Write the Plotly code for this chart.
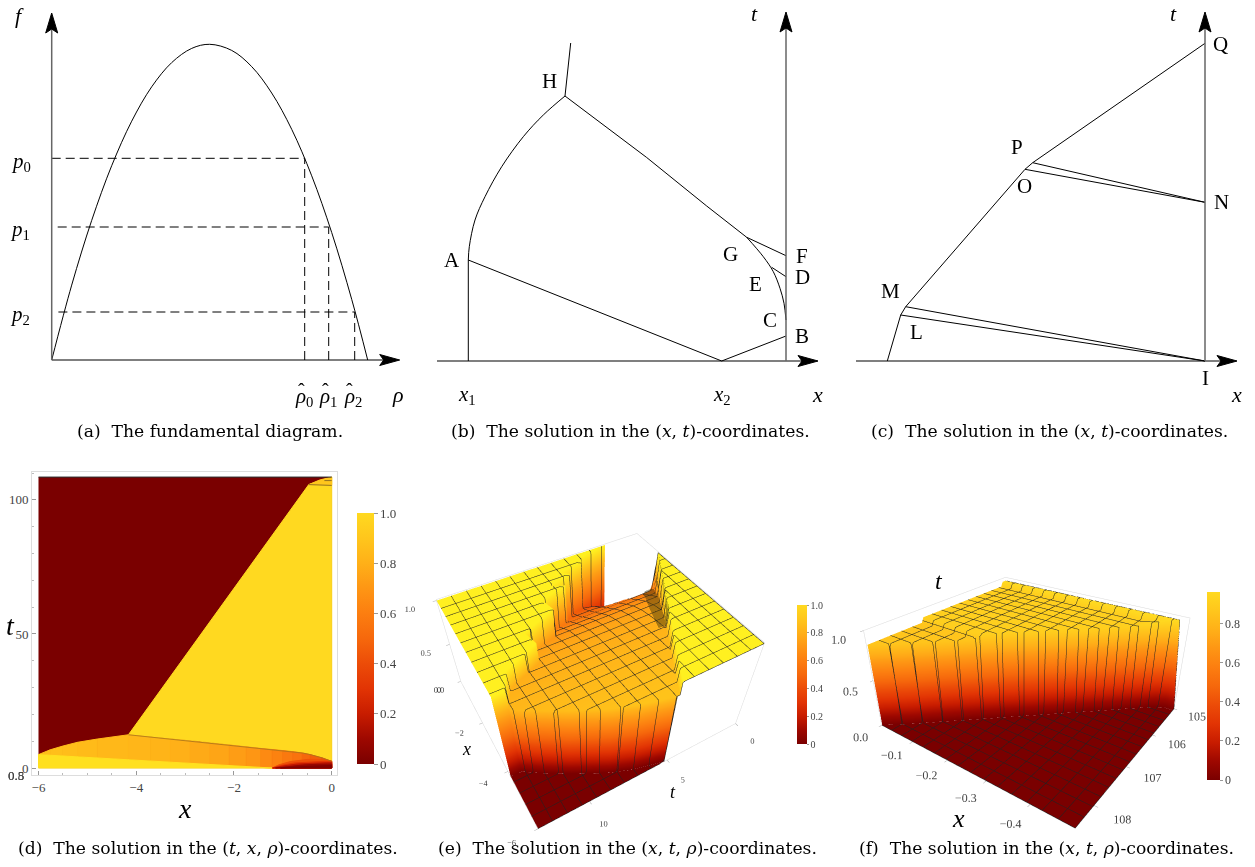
import plotly.graph_objects as go

W, H = 1255, 867
SERIF = "Liberation Serif"
CAPFONT = "DejaVu Serif"

# ---------- panel (a) fundamental diagram (diagram units, origin at axes crossing)
a_curve_x = [0, 20, 40, 60, 80, 100, 120, 140, 158, 180, 200, 220, 240, 260, 280, 300, 316]
a_curve_y = [0, 74.9, 139.6, 194.3, 238.8, 273.2, 297.4, 311.6, 315.7, 309.6, 293.4, 267, 230.7, 184.2, 127.5, 60.7, 0]
a_p_levels = [201.7, 133, 48]
a_rho_hat = [253, 277, 303]
a_dash_start = [0, 6, 6.7]

# ---------- panel (b)
b_x1_line = ([-317.7, -317.7], [0, 101])
b_A_x2 = ([-317.7, -64.3], [101, 0])
b_x2_B = ([-64.3, 0], [0, 25])
b_AH = ([-317.7, -316.7, -311, -301, -284.3, -262.7, -242.7, -221],
        [101, 114.3, 141, 164.3, 194.3, 224.3, 246, 265])
b_H_up = ([-221, -215.3], [265, 318])
b_HG = ([-221, -139.3, -79.3, -39.3], [265, 203.5, 155, 123.7])
b_GC = ([-39.3, -22.7, -12.7, -6, -2, 0], [123.7, 104.3, 89.3, 72.7, 57.7, 41])
b_GF = ([-39.3, 0], [123.7, 105.3])
b_ED = ([-14.3, 0], [93.7, 84.3])

# ---------- panel (c)
c_path = ([-317.7, -304.3, -299.3, -180, -172.3, 0], [0, 46, 54.3, 191.7, 198.3, 317.7])
c_LI = ([-304.3, 0], [46, 0])
c_MI = ([-299.3, 0], [54.3, 0])
c_ON = ([-180, 0], [191.7, 158.7])
c_PN = ([-172.3, 0], [198.3, 158.7])

# ---------- panel (d) density map
d_x = [-6, -5.76, -5.5, -5.2, -4.8, -4.16, -3.7, -3.3, -2.9, -2.5, -2.1, -1.75, -1.45, -1.22, -1.0, -0.8, -0.6, -0.44, -0.2, 0]
d_low = [5, 4.75, 4.48, 4.16, 3.74, 3.06, 2.58, 2.16, 1.74, 1.34, 0.92, 0.55, 0.24, 0, 0, 0, 0, 0, 0, 0]
d_up = [5.2, 6.8, 8.2, 9.6, 10.8, 12.4, 11.5, 10.8, 10.1, 9.3, 8.6, 7.9, 7.3, 6.9, 6.5, 6.1, 5.6, 5.0, 3.8, 2.5]
d_rho = [0.87, 0.87, 0.86, 0.85, 0.84, 0.83, 0.82, 0.8, 0.78, 0.76, 0.73, 0.7, 0.65, 0.62, 0.58, 0.55, 0.5, 0.47, 0.44]
d_wedge_rho = [0.42, 0.3, 0.18, 0.08, 0.02]
d_wedge_x = [
    [-1.22, -1.08, -0.85, -0.5, -0.2, 0, 0],
    [-1.22, -1.02, -0.75, -0.4, -0.15, 0, 0],
    [-1.2, -0.98, -0.7, -0.35, -0.1, 0, 0],
    [-1.15, -0.9, -0.6, -0.3, -0.1, 0, 0],
    [-1.05, -0.8, -0.5, -0.25, -0.1, 0, 0],
]
d_wedge_t = [
    [0, 1.2, 2.4, 3.2, 3.2, 2.6, 0],
    [0, 1.0, 1.9, 2.4, 2.5, 2.4, 0],
    [0, 0.8, 1.5, 1.9, 2.0, 2.0, 0],
    [0, 0.6, 1.1, 1.4, 1.5, 1.5, 0],
    [0, 0.35, 0.6, 0.8, 0.9, 0.9, 0],
]
d_yellow_x = [-4.16, -0.47, 0, 0, -0.44, -1.33, -2.7]
d_yellow_t = [12.4, 105.7, 108.5, 2.5, 5.0, 7.1, 10]
d_tip_x = [-0.47, -0.25, 0, 0, -0.47]
d_tip_t = [105.7, 107.4, 108.5, 105.6, 105.7]

# ---------- panel (e) surface: one row per x, knots along t
e_x = [-6, -5.75, -5.5, -5, -4.5, -4.2, -4.1, -3.5, -3, -2.5, -2, -1.5, -1.3, -1.22, -1.18, -1.1, -1, -0.8, -0.6, -0.4, -0.2, 0]
e_t = [
    [0, 5.0, 5.02, 5.05, 5.08, 5.12, 5.18, 5.22, 13],
    [0, 4.74, 4.79, 5.3, 5.8, 6.4, 7.0, 7.05, 13],
    [0, 4.48, 4.53, 5.3, 6, 7, 8.2, 8.25, 13],
    [0, 3.95, 4, 5, 6.5, 8, 10, 10.05, 13],
    [0, 3.43, 3.48, 5, 7, 9, 11.5, 11.55, 13],
    [0, 3.1, 3.15, 5, 7, 9, 12.3, 12.35, 13],
    [0, 3.0, 3.05, 5, 7, 9, 12.3, 12.35, 13],
    [0, 2.38, 2.43, 4, 6, 8, 11.7, 11.75, 13],
    [0, 1.86, 1.91, 4, 6, 8, 9.7, 9.75, 13],
    [0, 1.34, 1.39, 3, 5, 7, 9.9, 9.95, 13],
    [0, 0.82, 0.87, 3, 5, 7, 7.8, 7.85, 13],
    [0, 0.29, 0.34, 2, 4, 6, 8.0, 8.05, 13],
    [0, 0.08, 0.12, 2, 4, 5.5, 6.9, 6.95, 13],
    [0, 0.01, 0.03, 1, 2, 4, 6.3, 6.35, 13],
    [0, 0.1, 0.3, 1, 2, 4, 6.5, 6.55, 13],
    [0, 0.2, 0.5, 1, 2, 4, 6.9, 6.95, 13],
    [0, 0.3, 0.7, 1.2, 2, 4, 7.0, 7.05, 13],
    [0, 0.4, 0.9, 1.5, 2.5, 4, 5.6, 5.65, 13],
    [0, 0.4, 0.9, 1.5, 2.5, 4, 6.0, 6.05, 13],
    [0, 0.4, 0.9, 1.5, 2.5, 3.5, 4.4, 4.45, 13],
    [0, 0.4, 0.9, 1.5, 2.2, 3, 4.2, 4.25, 13],
    [0, 0.4, 0.8, 1.2, 1.6, 2, 2.3, 2.35, 13],
]
e_rho = [
    [1, 1, .86, .86, .86, .86, .86, 0, 0],
    [1, 1, .86, .86, .86, .86, .86, 0, 0],
    [1, 1, .85, .85, .85, .85, .85, 0, 0],
    [1, 1, .84, .84, .84, .84, .84, 0, 0],
    [1, 1, .83, .83, .83, .83, .83, 0, 0],
    [1, 1, .82, .82, .82, .82, .82, 0, 0],
    [1, 1, .82, .82, .82, .82, .82, 1, 1],
    [1, 1, .8, .8, .8, .8, .8, 1, 1],
    [1, 1, .78, .78, .78, .78, .78, 1, 1],
    [1, 1, .75, .75, .75, .75, .75, 1, 1],
    [1, 1, .7, .7, .7, .7, .7, 1, 1],
    [1, 1, .62, .62, .62, .62, .62, 1, 1],
    [1, 1, .58, .58, .58, .58, .58, 1, 1],
    [1, 1, .58, .58, .58, .58, .58, 1, 1],
    [.75, .62, .57, .56, .55, .55, .55, 1, 1],
    [.5, .5, .52, .54, .55, .55, .55, 1, 1],
    [.4, .42, .46, .5, .53, .53, .53, 1, 1],
    [.25, .28, .34, .4, .47, .5, .5, 1, 1],
    [.14, .18, .24, .31, .41, .47, .47, 1, 1],
    [.08, .11, .16, .22, .33, .42, .45, 1, 1],
    [.04, .06, .09, .14, .23, .33, .4, 1, 1],
    [.03, .04, .05, .07, .09, .11, .13, 1, 1],
]
# soft shadow lying on the wall between the right plateau and the fan in (e)
e_shade_x = [-3.6, -3, -2.5, -2, -1.5, -1.3, -1.22]
e_shade_t = [
    [2.5, 2.55, 3.0],
    [1.86, 1.91, 2.6],
    [1.34, 1.39, 2.2],
    [0.82, 0.87, 1.7],
    [0.29, 0.34, 1.2],
    [0.08, 0.12, 0.9],
    [0.01, 0.03, 0.7],
]
e_shade_rho = [
    [1.01, .82, .82],
    [1.01, .8, .8],
    [1.01, .77, .77],
    [1.01, .72, .72],
    [1.01, .64, .64],
    [1.01, .6, .6],
    [1.01, .6, .6],
]

# ---------- panel (f) surface
f_x = [-.49, -.47, -.45, -.4, -.35, -.3, -.25, -.2, -.17, -.15, -.1, -.05, 0]
f_t = [
    [105, 105.01, 105.02, 105.03, 105.04, 105.05, 105.06, 108.5],
    [105, 105.01, 105.02, 105.03, 105.04, 105.05, 105.06, 108.5],
    [105, 105.05, 105.07, 105.09, 105.11, 105.13, 105.15, 108.5],
    [105, 105.1, 105.15, 105.46, 105.48, 105.5, 105.52, 108.5],
    [105, 105.1, 105.15, 105.84, 105.86, 105.88, 105.9, 108.5],
    [105, 105.1, 105.15, 106.21, 106.23, 106.25, 106.27, 108.5],
    [105, 105.1, 105.15, 106.59, 106.61, 106.63, 106.65, 108.5],
    [105, 105.1, 105.15, 106.96, 106.98, 107.0, 107.02, 108.5],
    [105, 105.1, 105.15, 107.19, 107.21, 107.23, 107.25, 108.5],
    [105, 105.1, 105.15, 107.3, 107.35, 107.38, 107.4, 108.5],
    [105, 105.1, 105.15, 107.3, 107.35, 107.75, 107.77, 108.5],
    [105, 105.1, 105.15, 107.3, 107.35, 108.13, 108.15, 108.5],
    [105, 105.1, 105.15, 107.3, 107.35, 108.48, 108.49, 108.5],
]
f_rho = [
    [0, 0, 0, 0, 0, 0, 0, 0],
    [.96, .96, .96, .96, .96, .96, 0, 0],
    [.96, .96, .96, .96, .96, .96, 0, 0],
    [.96, .96, .91, .91, .91, .91, 0, 0],
    [.96, .96, .91, .91, .91, .91, 0, 0],
    [.96, .96, .91, .91, .91, .91, 0, 0],
    [.96, .96, .91, .91, .91, .91, 0, 0],
    [.96, .96, .91, .91, .91, .91, 0, 0],
    [.96, .96, .91, .91, .91, .91, 0, 0],
    [.96, .96, .91, .91, .86, .86, 0, 0],
    [.96, .96, .91, .91, .86, .86, 0, 0],
    [.96, .96, .91, .91, .86, .86, 0, 0],
    [.96, .96, .91, .91, .86, .86, 0, 0],
]

SCALE_STOPS = [0, 0.1, 0.2, 0.3, 0.4, 0.5, 0.6, 0.7, 0.8, 0.9, 1]
SCALE_RGB = [(122, 0, 0), (158, 8, 0), (200, 28, 0), (226, 52, 4), (236, 76, 8), (246, 104, 12),
             (252, 126, 16), (254, 150, 20), (255, 176, 24), (255, 198, 28), (255, 217, 32)]
COLORSCALE = [[s, "rgb(%d,%d,%d)" % c] for s, c in zip(SCALE_STOPS, SCALE_RGB)]
# the lit surface in (e) reads brighter than its legend at the top of the range
E_RGB = SCALE_RGB[:9] + [(255, 208, 28), (255, 240, 32)]
E_COLORSCALE = [[s, "rgb(%d,%d,%d)" % c] for s, c in zip(SCALE_STOPS, E_RGB)]
FLAT = dict(ambient=1, diffuse=0, specular=0, roughness=1, fresnel=0)


def rho_color(v):
    for i in range(len(SCALE_STOPS) - 1):
        if v <= SCALE_STOPS[i + 1]:
            f = (v - SCALE_STOPS[i]) / (SCALE_STOPS[i + 1] - SCALE_STOPS[i])
            c = [SCALE_RGB[i][k] + f * (SCALE_RGB[i + 1][k] - SCALE_RGB[i][k]) for k in range(3)]
            return "rgb(%d,%d,%d)" % tuple(c)
    return "rgb(255,217,32)"


fig = go.Figure()
layout_axes = {}


def panel_axes(n, left, right, top, bottom, xr, yr, visible=False, **kw):
    sx = "xaxis" if n == 1 else f"xaxis{n}"
    sy = "yaxis" if n == 1 else f"yaxis{n}"
    base = dict(visible=visible, fixedrange=True)
    layout_axes[sx] = dict(domain=[left / W, right / W], range=xr, anchor="y" if n == 1 else f"y{n}", **base, **kw)
    layout_axes[sy] = dict(domain=[1 - bottom / H, 1 - top / H], range=yr, anchor="x" if n == 1 else f"x{n}", **base, **kw)
    return ("x" if n == 1 else f"x{n}"), ("y" if n == 1 else f"y{n}")


def line(ax, xs, ys, color="black", width=1.0, dash=None, spline=False):
    fig.add_trace(go.Scatter(x=xs, y=ys, mode="lines", xaxis=ax[0], yaxis=ax[1], hoverinfo="skip",
                             line=dict(color=color, width=width, dash=dash,
                                       shape="spline" if spline else "linear", smoothing=1.0)))


def poly(ax, xs, ys, color):
    fig.add_trace(go.Scatter(x=list(xs) + [xs[0]], y=list(ys) + [ys[0]], mode="lines", xaxis=ax[0], yaxis=ax[1],
                             fill="toself", fillcolor=color, line=dict(color=color, width=1), hoverinfo="skip"))


def axes_arrows(ax, x_from, x_tip, t_x, t_tip, y_from=0, x_color="black", t_color="#666666", t_w=1.5):
    line(ax, [x_from, x_tip - 12], [0, 0], color=x_color, width=1.2)
    line(ax, [t_x, t_x], [y_from, t_tip - 12], color=t_color, width=t_w)
    poly(ax, [x_tip - 20, x_tip, x_tip - 20, x_tip - 16], [5.5, 0, -5.5, 0], "black")
    poly(ax, [t_x - 6, t_x, t_x + 6, t_x], [t_tip - 20, t_tip, t_tip - 20, t_tip - 16], "black")


# panel a
axa = panel_axes(1, 0, 420, 0, 450, [-51.7, 368.3], [-90, 360])
line(axa, a_curve_x, a_curve_y, spline=True)
for lvl, rh, st in zip(a_p_levels, a_rho_hat, a_dash_start):
    line(axa, [st, rh], [lvl, lvl], width=1, dash="9px,5px")
    line(axa, [rh, rh], [0, lvl], width=1, dash="9px,5px")
axes_arrows(axa, 0, 348, 0, 347)

# panel b
axb = panel_axes(2, 430, 840, 0, 450, [-356, 54], [-89, 361])
for seg in (b_x1_line, b_A_x2, b_x2_B, b_H_up, b_HG, b_GF, b_ED):
    line(axb, seg[0], seg[1])
line(axb, b_AH[0], b_AH[1], spline=True)
line(axb, b_GC[0], b_GC[1], spline=True)
axes_arrows(axb, -349, 32, 0, 349)

# panel c
axc = panel_axes(3, 840, 1255, 0, 450, [-365, 50], [-89, 361])
for seg in (c_path, c_LI, c_MI, c_ON, c_PN):
    line(axc, seg[0], seg[1])
axes_arrows(axc, -349, 32, 0, 349)

# panel d
panel_axes(4, 32, 337, 472, 775, [-6.133, 0.108], [-2.6, 110.4])
TICK = dict(family=SERIF, size=13, color="#444444")
layout_axes["xaxis4"].update(visible=True, showgrid=False, zeroline=False, mirror=True, showline=True, linecolor="#dddddd",
                             tickvals=[-6, -4, -2, 0], ticks="inside", ticklen=4, tickcolor="#999999", tickfont=TICK,
                             minor=dict(dtick=0.5, ticks="inside", ticklen=2, tickcolor="#bbbbbb"))
layout_axes["yaxis4"].update(visible=True, showgrid=False, zeroline=False, mirror=True, showline=True, linecolor="#dddddd",
                             tickvals=[0, 50, 100], ticks="inside", ticklen=4, tickcolor="#999999", tickfont=TICK,
                             minor=dict(dtick=10, ticks="inside", ticklen=2, tickcolor="#bbbbbb"))
axd = ("x4", "y4")
fig.add_trace(go.Heatmap(x=[-6, 0], y=[0, 108.5], z=[[0]], xaxis="x4", yaxis="y4", zmin=0, zmax=1,
                         colorscale=COLORSCALE, hoverinfo="skip",
                         colorbar=dict(x=357 / W, xanchor="left", y=1 - 764 / H, yanchor="bottom", len=251 / H,
                                       thickness=17, outlinewidth=0, xpad=0, ypad=0, ticks="outside", ticklen=4,
                                       tickcolor="#999999", tickvals=[0, .2, .4, .6, .8, 1],
                                       ticktext=["0", "0.2", "0.4", "0.6", "0.8", "1.0"], tickfont=TICK)))
poly(axd, d_yellow_x, d_yellow_t, rho_color(1))
poly(axd, d_tip_x, d_tip_t, rho_color(0.9))
for i, r in enumerate(d_rho):
    poly(axd, [d_x[i], d_x[i + 1], d_x[i + 1], d_x[i]], [d_low[i], d_low[i + 1], d_up[i + 1], d_up[i]], rho_color(r))
poly(axd, [-6, -1.22, -6], [0, 0, 5], "rgb(255,224,32)")
for xs, ts, r in zip(d_wedge_x, d_wedge_t, d_wedge_rho):
    poly(axd, xs, ts, rho_color(r))
line(axd, d_x[5:], d_up[5:], color="#a8741a", width=0.8)
line(axd, [-0.47, 0], [105.7, 105.4], color="#7a5a20", width=0.8)
line(axd, [-0.15, 0], [107.2, 107.2], color="#7a5a20", width=0.8)
line(axd, [-6, 0], [108.5, 108.5], color="#222222", width=1)

SMALL = dict(family=SERIF, size=10, color="#444444")
MID = dict(family=SERIF, size=12, color="#444444")

# colour bar for (e): a legend-only marker, so the bar keeps the plain scale
fig.add_trace(go.Scatter(x=[-6], y=[0], mode="markers", xaxis="x4", yaxis="y4", hoverinfo="skip",
                         marker=dict(size=1, opacity=0, color=[0], cmin=0, cmax=1, colorscale=COLORSCALE, showscale=True,
                                     colorbar=dict(x=797 / W, xanchor="left", y=1 - 744 / H, yanchor="bottom",
                                                   len=139 / H, thickness=10, outlinewidth=0, xpad=0, ypad=0,
                                                   ticks="outside", ticklen=2, tickcolor="#999999",
                                                   tickvals=[0, .2, .4, .6, .8, 1],
                                                   ticktext=["0", "0.2", "0.4", "0.6", "0.8", "1.0"], tickfont=SMALL))))


def surface(scene, xrows, t_rows, rho, cmax, xsize, xstart, tsize, tstart, tend, scale, cb=None):
    xs = [[v] * len(t_rows[0]) for v in xrows]
    fig.add_trace(go.Surface(x=xs, y=t_rows, z=rho, scene=scene, cmin=0, cmax=cmax,
                             colorscale=scale, showscale=cb is not None, colorbar=cb, hoverinfo="skip",
                             lighting=FLAT,
                             contours=dict(
                                 x=dict(show=True, start=xstart, end=0, size=xsize, color="#222222", width=1),
                                 y=dict(show=True, start=tstart, end=tend, size=tsize, color="#222222", width=1))))


surface("scene", e_x, e_t, e_rho, 1, 0.4, -6, 0.87, 0, 13, E_COLORSCALE)
fig.add_trace(go.Surface(x=[[v] * 3 for v in e_shade_x], y=e_shade_t, z=e_shade_rho, scene="scene",
                         colorscale=[[0, "#3a3008"], [1, "#3a3008"]], showscale=False, opacity=0.45,
                         lighting=FLAT, hoverinfo="skip"))
surface("scene2", f_x, f_t, f_rho, 0.96, 0.0327, -0.49, 0.233, 105, 108.5, COLORSCALE,
        dict(x=1207 / W, xanchor="left", y=1 - 780 / H, yanchor="bottom", len=188 / H, thickness=13, outlinewidth=0,
             xpad=0, ypad=0, ticks="outside", ticklen=3, tickcolor="#999999", tickvals=[0, .2, .4, .6, .8],
             ticktext=["0", "0.2", "0.4", "0.6", "0.8"], tickfont=MID))


def scene_axis(rng, vals, font, txt=None):
    d = dict(range=rng, tickvals=vals, title=dict(text=""), showbackground=False, showgrid=False, zeroline=False,
             showline=True, linecolor="#d8d8d8", linewidth=1, mirror=True, ticks="outside", ticklen=3,
             tickcolor="#aaaaaa", tickfont=font, showspikes=False, tickangle=0)
    if txt:
        d["ticktext"] = txt
    return d


def scene_dom(l, r, t, b):
    return dict(x=[l / W, r / W], y=[1 - b / H, 1 - t / H])


scene1 = dict(domain=scene_dom(379, 807, 462, 867),
              xaxis=scene_axis([-6, 0], [-6, -4, -2, 0], SMALL, ["−6", "−4", "−2", "0"]),
              yaxis=scene_axis([0, 13], [0, 5, 10], SMALL),
              zaxis=scene_axis([0, 1.01], [0, .5, 1], SMALL, ["0.0", "0.5", "1.0"]),
              aspectmode="manual", aspectratio=dict(x=0.875, y=1, z=0.517),
              camera=dict(eye=dict(x=-1.26, y=0.73, z=1.56), up=dict(x=0, y=0, z=1), center=dict(x=0, y=0, z=0)),
              bgcolor="rgba(0,0,0,0)")
scene2 = dict(domain=scene_dom(820, 1244, 485, 861),
              xaxis=scene_axis([-0.49, 0], [-.4, -.3, -.2, -.1, 0], MID, ["−0.4", "−0.3", "−0.2", "−0.1", "0.0"]),
              yaxis=scene_axis([105, 108.5], [105, 106, 107, 108], MID),
              zaxis=scene_axis([0, 1], [0, .5, 1], MID, ["0.0", "0.5", "1.0"]),
              aspectmode="manual", aspectratio=dict(x=1.12, y=1, z=0.51),
              camera=dict(eye=dict(x=-1.137, y=1.564, z=1.05), up=dict(x=0, y=0, z=1), center=dict(x=0, y=0, z=0)),
              bgcolor="rgba(0,0,0,0)")

# ---------- text (page pixel positions)
ann = []


def text(s, x, y, size=21, color="black", family=SERIF):
    ann.append(dict(text=s, x=x / W, y=1 - y / H, xref="paper", yref="paper", showarrow=False,
                    xanchor="center", yanchor="middle", font=dict(family=family, size=size, color=color)))


CAP = 17.2
text("(a)  The fundamental diagram.", 210, 431, CAP, family=CAPFONT)
text("(b)  The solution in the (<i>x</i>, <i>t</i>)-coordinates.", 630, 431, CAP, family=CAPFONT)
text("(c)  The solution in the (<i>x</i>, <i>t</i>)-coordinates.", 1049, 431, CAP, family=CAPFONT)
text("(d)  The solution in the (<i>t</i>, <i>x</i>, <i>ρ</i>)-coordinates.", 208, 848, CAP, family=CAPFONT)
text("(e)  The solution in the (<i>x</i>, <i>t</i>, <i>ρ</i>)-coordinates.", 627, 848, CAP, family=CAPFONT)
text("(f)  The solution in the (<i>x</i>, <i>t</i>, <i>ρ</i>)-coordinates.", 1046, 848, CAP, family=CAPFONT)

text("<i>f</i>", 19, 15, 22)
text("<i>p</i><sub>0</sub>", 21, 162)
text("<i>p</i><sub>1</sub>", 20, 230)
text("<i>p</i><sub>2</sub>", 20, 315)
for x, sub in [(304, "0"), (328, "1"), (353, "2")]:
    text(f"<i>ρ</i><sub>{sub}</sub>", x, 397)
    text("ˆ", x - 3, 391, 20)
text("<i>ρ</i>", 398, 395, 22)

for s, x, y in [("A", 452, 260), ("H", 549, 81), ("G", 731, 254), ("F", 802, 256), ("D", 802, 277),
                ("E", 755, 284), ("C", 770, 320), ("B", 802, 336),
                ("Q", 1220, 44), ("P", 1017, 147), ("O", 1024, 186), ("N", 1221, 202),
                ("M", 890, 291), ("L", 917, 332), ("I", 1205, 378)]:
    text(s, x, y, 21)
text("<i>x</i><sub>1</sub>", 467, 395)
text("<i>x</i><sub>2</sub>", 722, 395)
text("<i>x</i>", 817, 395, 22)
text("<i>t</i>", 754, 13, 22)
text("<i>x</i>", 1236, 395, 22)
text("<i>t</i>", 1173, 13, 22)

text("<i>x</i>", 185, 808, 28)
text("<i>t</i>", 10, 625, 28)
text("0.8", 16, 775, 13, "#444444")
text("0.5", 16, 775, 13, "#444444")

text("<i>x</i>", 466, 749, 18)
text("<i>t</i>", 673, 792, 18)
text("<i>t</i>", 939, 581, 24)
text("<i>x</i>", 958, 818, 26)

fig.update_layout(width=W, height=H, margin=dict(l=0, r=0, t=0, b=0, pad=0), paper_bgcolor="white",
                  plot_bgcolor="white", showlegend=False, annotations=ann, scene=scene1, scene2=scene2,
                  **layout_axes)
fig.write_html("out.html", config={"displayModeBar": False}, post_script="document.body.style.margin='0';")
